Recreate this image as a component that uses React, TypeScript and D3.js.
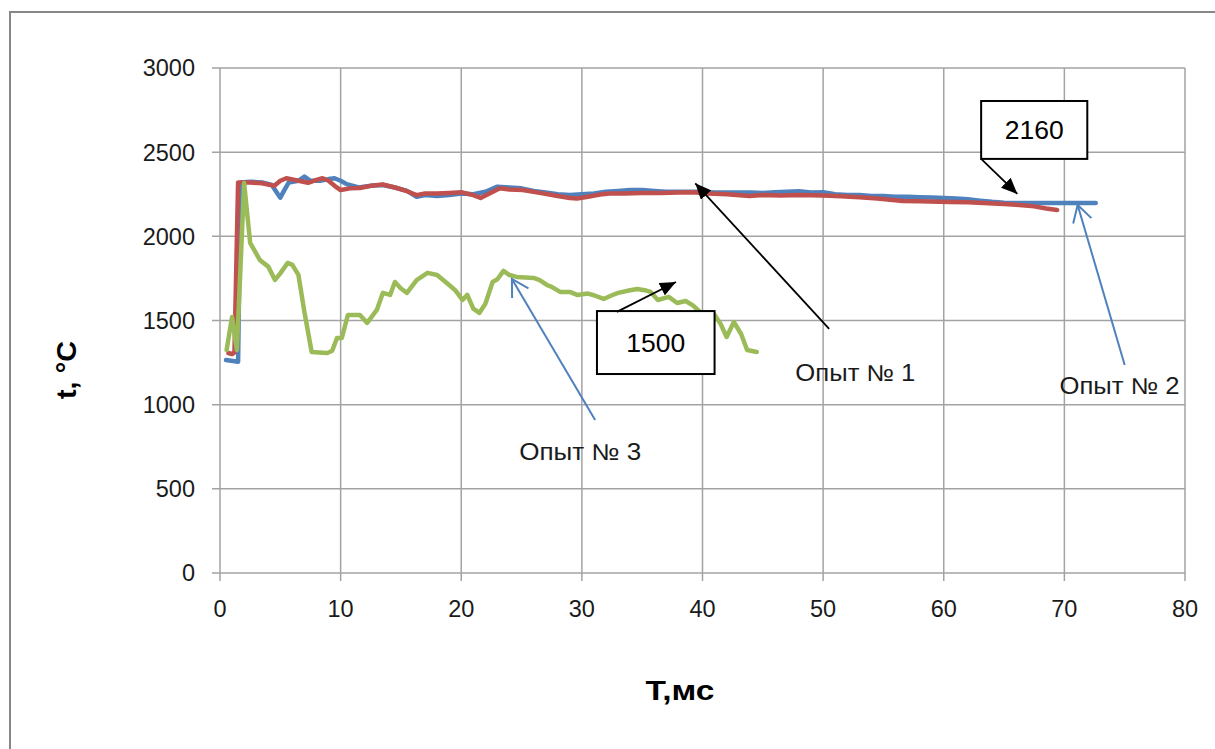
import React from "react";
import * as d3 from "d3";

// ---------- data ----------
const xTicks = [0, 10, 20, 30, 40, 50, 60, 70, 80];
const yTicks = [0, 500, 1000, 1500, 2000, 2500, 3000];

// Опыт № 2 (blue)
const blueT = [0.5, 1.5, 1.7, 2.5, 3.5, 4.3, 4.8, 5.0, 5.3, 5.7, 6.5, 7.0, 7.5, 8.3, 9.0, 9.5, 10.0, 10.5, 11.5, 12.5, 13.5, 14.5, 15.5, 16.3, 17.0, 18.0, 19.0, 20.0, 21.0, 22.0, 23.0, 24.0, 25.0, 26.0, 27.0, 28.0, 29.0, 30.0, 31.0, 32.0, 33.0, 34.0, 35.0, 36.0, 37.0, 38.0, 39.0, 40.0, 41, 42, 43, 44, 45, 46, 47, 48, 49, 50, 51, 52, 53, 54, 55, 56, 57, 58, 59, 60, 61, 62, 63, 64, 65, 66, 67, 72.6];
const blueV = [1265, 1255, 2320, 2325, 2320, 2305, 2250, 2230, 2270, 2320, 2330, 2355, 2330, 2330, 2340, 2345, 2330, 2310, 2290, 2300, 2305, 2290, 2270, 2235, 2245, 2240, 2245, 2255, 2250, 2265, 2295, 2290, 2285, 2270, 2260, 2250, 2245, 2250, 2255, 2265, 2270, 2275, 2275, 2270, 2265, 2265, 2265, 2265, 2260, 2260, 2260, 2260, 2258, 2262, 2265, 2268, 2260, 2262, 2250, 2245, 2245, 2240, 2240, 2235, 2235, 2232, 2230, 2228, 2225, 2220, 2212, 2205, 2200, 2198, 2198, 2198];

// Опыт № 1 (red)
const redT = [0.7, 1.0, 1.2, 1.5, 2.5, 3.5, 4.5, 5.0, 5.5, 6.5, 7.3, 8.0, 8.5, 9.0, 9.5, 10.0, 10.8, 11.6, 12.5, 13.5, 14.5, 15.5, 16.3, 17.0, 18.0, 19.0, 20.0, 21.0, 21.6, 22.5, 23.2, 24.0, 25.1, 26.5, 28.0, 29.0, 29.6, 30.5, 31.5, 32.3, 33.5, 35, 36.5, 38, 39.2, 40.5, 42, 43.9, 45, 46.5, 48, 50, 51.5, 53, 54.5, 56.6, 58, 60.5, 62, 63.3, 65, 66, 67.5, 68.5, 69.4];
const redV = [1307, 1300, 1310, 2320, 2320, 2315, 2300, 2330, 2345, 2330, 2318, 2335, 2345, 2330, 2300, 2275, 2285, 2287, 2300, 2308, 2290, 2268, 2245, 2255, 2255, 2258, 2262, 2245, 2228, 2260, 2285, 2278, 2275, 2258, 2240, 2228, 2225, 2235, 2248, 2255, 2255, 2258, 2258, 2260, 2262, 2255, 2250, 2240, 2245, 2242, 2245, 2242, 2238, 2232, 2225, 2210, 2208, 2204, 2202, 2198, 2192, 2187, 2178, 2165, 2157];

// Опыт № 3 (green)
const greenT = [0.55, 1.0, 1.4, 2.0, 2.5, 3.3, 4.0, 4.56, 5.0, 5.6, 6.0, 6.5, 7.0, 7.6, 8.2, 8.9, 9.3, 9.7, 10.1, 10.6, 11.6, 12.2, 13.0, 13.5, 14.1, 14.5, 15.0, 15.5, 16.3, 17.2, 18.0, 18.8, 19.5, 20.1, 20.5, 21.0, 21.5, 22.0, 22.6, 23.0, 23.5, 24.0, 24.6, 26.0, 26.5, 27.1, 27.5, 28.2, 29.0, 29.6, 30.5, 31.0, 31.8, 32.5, 33.0, 34.0, 34.6, 35.2, 35.7, 36.3, 37.2, 37.9, 38.6, 39.2, 39.8, 40.9, 41.5, 42.0, 42.6, 43.2, 43.7, 44.5];
const greenV = [1325, 1521, 1325, 2317, 1961, 1860, 1820, 1741, 1780, 1842, 1830, 1771, 1550, 1313, 1310, 1307, 1320, 1396, 1396, 1533, 1533, 1486, 1563, 1664, 1652, 1729, 1690, 1664, 1740, 1783, 1770, 1723, 1680, 1622, 1652, 1570, 1545, 1600, 1729, 1745, 1795, 1770, 1759, 1753, 1740, 1711, 1700, 1670, 1670, 1652, 1660, 1650, 1628, 1650, 1664, 1680, 1687, 1680, 1670, 1622, 1640, 1604, 1616, 1590, 1551, 1545, 1480, 1402, 1491, 1420, 1325, 1313];

const seriesNames = ["Опыт № 2", "Опыт № 1", "Опыт № 3"];
const xTitle = "T,мс";
const yTitle = "t, °C";
const boxLabels = ["2160", "1500"];

// ---------- layout ----------
const W = 1215;
const H = 749;
const left = 220, right = 1185, top = 68, bottom = 573;
const FONT = "'Liberation Sans', Arial, sans-serif";

export default function App() {
  const x = d3.scaleLinear().domain([0, 80]).range([left, right]);
  const y = d3.scaleLinear().domain([0, 3000]).range([bottom, top]);
  const line = d3.line<[number, number]>().x(d => x(d[0])).y(d => y(d[1]));

  const mk = (ts: number[], vs: number[]) => ts.map((t, i) => [t, vs[i]] as [number, number]);
  const series = [
    { d: mk(blueT, blueV), c: "#4F81BD" },
    { d: mk(redT, redV), c: "#C0504D" },
    { d: mk(greenT, greenV), c: "#9BBB59" },
  ];

  // annotations in data units
  const arrow1 = { from: [50.5, 1450], to: [39.4, 2315] };
  const arrow2 = { from: [75.0, 1236], to: [71.1, 2186] };
  const arrow3 = { from: [31.1, 909], to: [24.2, 1747] };
  const box1 = { x0: 63.1, x1: 71.9, y0: 2804, y1: 2460, tip: [66.1, 2252] };
  const box2 = { x0: 31.25, x1: 41.0, y0: 1556, y1: 1182, from: [32.9, 1551], tip: [37.8, 1729] };

  const openArrowHead = (from: number[], to: number[]) => {
    const fx = x(from[0]), fy = y(from[1]), tx = x(to[0]), ty = y(to[1]);
    const a = Math.atan2(fy - ty, fx - tx);
    const L = 19, s = Math.PI / 6;
    return `M${tx + L * Math.cos(a - s)},${ty + L * Math.sin(a - s)} L${tx},${ty} L${tx + L * Math.cos(a + s)},${ty + L * Math.sin(a + s)}`;
  };

  const annFont = 23;

  return (
    <svg width={W} height={H} style={{ position: "absolute", left: 0, top: 0, background: "#fff" }}>
      <defs>
        <marker id="blk" markerUnits="userSpaceOnUse" markerWidth={18} markerHeight={14} refX={16} refY={7} orient="auto">
          <path d="M0,0 L16,7 L0,14 z" fill="#000" />
        </marker>
      </defs>
      <rect x={0} y={0} width={W} height={H} fill="#fff" />
      {/* outer frame */}
      <path d={`M10,${H + 5} L10,12 L${W + 5},12`} fill="none" stroke="#878787" strokeWidth={2} />

      {/* grid */}
      {yTicks.map(v => (
        <line key={"gy" + v} x1={left - 8} x2={right} y1={y(v)} y2={y(v)} stroke="#a3a3a3" strokeWidth={1.5} />
      ))}
      {xTicks.map(v => (
        <line key={"gx" + v} x1={x(v)} x2={x(v)} y1={top} y2={bottom + 8} stroke="#a3a3a3" strokeWidth={1.5} />
      ))}

      {/* tick labels */}
      {yTicks.map(v => (
        <text key={"ty" + v} x={195} y={y(v)} dy="0.36em" textAnchor="end" fontFamily={FONT} fontSize={23.5} fill="#1a1a1a">{v}</text>
      ))}
      {xTicks.map(v => (
        <text key={"tx" + v} x={x(v)} y={609} dy="0.36em" textAnchor="middle" fontFamily={FONT} fontSize={23.5} fill="#1a1a1a">{v}</text>
      ))}

      {/* axis titles */}
      <text x={680} y={690} dy="0.36em" textAnchor="middle" fontFamily={FONT} fontSize={27} fontWeight="bold" fill="#000" textLength={69} lengthAdjust="spacingAndGlyphs">{xTitle}</text>
      <text transform={`translate(66,370) rotate(-90)`} dy="0.36em" textAnchor="middle" fontFamily={FONT} fontSize={27} fontWeight="bold" fill="#000" textLength={58} lengthAdjust="spacingAndGlyphs">{yTitle}</text>

      {/* series */}
      {series.map((s, i) => (
        <path key={"s" + i} d={line(s.d) || ""} fill="none" stroke={s.c} strokeWidth={4.5} strokeLinejoin="round" strokeLinecap="round" />
      ))}

      {/* Опыт № 1 arrow */}
      <line x1={x(arrow1.from[0])} y1={y(arrow1.from[1])} x2={x(arrow1.to[0])} y2={y(arrow1.to[1])} stroke="#000" strokeWidth={1.8} markerEnd="url(#blk)" />
      <text x={x(47.7)} y={y(1188)} dy="0.36em" fontFamily={FONT} fontSize={annFont} fill="#1a1a1a" textLength={120} lengthAdjust="spacingAndGlyphs">{seriesNames[1]}</text>

      {/* Опыт № 2 arrow */}
      <line x1={x(arrow2.from[0])} y1={y(arrow2.from[1])} x2={x(arrow2.to[0])} y2={y(arrow2.to[1])} stroke="#4F81BD" strokeWidth={2} />
      <path d={openArrowHead(arrow2.from, arrow2.to)} fill="none" stroke="#4F81BD" strokeWidth={2} />
      <text x={x(69.6)} y={y(1111)} dy="0.36em" fontFamily={FONT} fontSize={annFont} fill="#1a1a1a" textLength={120} lengthAdjust="spacingAndGlyphs">{seriesNames[0]}</text>

      {/* Опыт № 3 arrow */}
      <line x1={x(arrow3.from[0])} y1={y(arrow3.from[1])} x2={x(arrow3.to[0])} y2={y(arrow3.to[1])} stroke="#4F81BD" strokeWidth={2} />
      <path d={openArrowHead(arrow3.from, arrow3.to)} fill="none" stroke="#4F81BD" strokeWidth={2} />
      <text x={x(24.8)} y={y(719)} dy="0.36em" fontFamily={FONT} fontSize={annFont} fill="#1a1a1a" textLength={122} lengthAdjust="spacingAndGlyphs">{seriesNames[2]}</text>

      {/* box 2160 */}
      <rect x={x(box1.x0)} y={y(box1.y0)} width={x(box1.x1) - x(box1.x0)} height={y(box1.y1) - y(box1.y0)} fill="#fff" stroke="#000" strokeWidth={2} />
      <line x1={x(box1.x0)} y1={y(box1.y1)} x2={x(box1.tip[0])} y2={y(box1.tip[1])} stroke="#000" strokeWidth={1.8} markerEnd="url(#blk)" />
      <text x={(x(box1.x0) + x(box1.x1)) / 2} y={(y(box1.y0) + y(box1.y1)) / 2} dy="0.36em" textAnchor="middle" fontFamily={FONT} fontSize={26} fill="#000" textLength={59} lengthAdjust="spacingAndGlyphs">{boxLabels[0]}</text>

      {/* box 1500 */}
      <rect x={x(box2.x0)} y={y(box2.y0)} width={x(box2.x1) - x(box2.x0)} height={y(box2.y1) - y(box2.y0)} fill="#fff" stroke="#000" strokeWidth={2} />
      <line x1={x(box2.from[0])} y1={y(box2.from[1])} x2={x(box2.tip[0])} y2={y(box2.tip[1])} stroke="#000" strokeWidth={1.8} markerEnd="url(#blk)" />
      <text x={(x(box2.x0) + x(box2.x1)) / 2} y={(y(box2.y0) + y(box2.y1)) / 2} dy="0.36em" textAnchor="middle" fontFamily={FONT} fontSize={26} fill="#000" textLength={59} lengthAdjust="spacingAndGlyphs">{boxLabels[1]}</text>
    </svg>
  );
}
